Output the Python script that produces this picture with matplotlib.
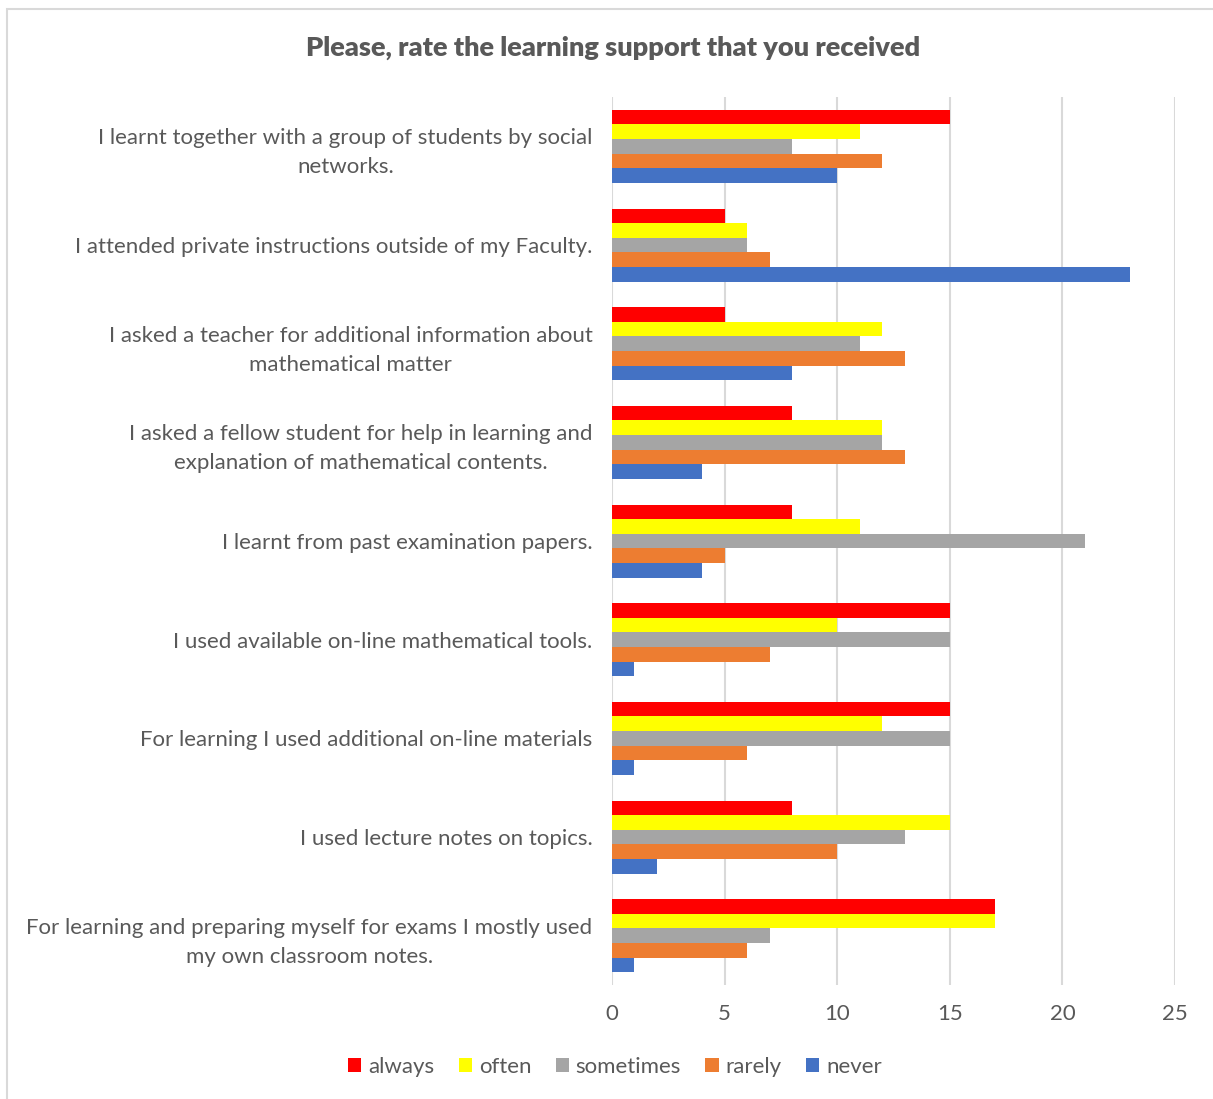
import numpy as np
import matplotlib
matplotlib.use('Agg')
import matplotlib.pyplot as plt
from matplotlib.patches import Rectangle

plt.rcParams['font.family'] = ['Lato', 'DejaVu Sans']

# survey statements, top to bottom
categories = [
    'I learnt together with a group of students by social\nnetworks.',
    'I attended private instructions outside of my Faculty.',
    'I asked a teacher for additional information about\nmathematical matter',
    'I asked a fellow student for help in learning and\nexplanation of mathematical contents.',
    'I learnt from past examination papers.',
    'I used available on-line mathematical tools.',
    'For learning I used additional on-line materials',
    'I used lecture notes on topics.',
    'For learning and preparing myself for exams I mostly used\nmy own classroom notes.',
]

series_names = ['always', 'often', 'sometimes', 'rarely', 'never']
always = [15, 5, 5, 8, 8, 15, 15, 8, 17]
often = [11, 6, 12, 12, 11, 10, 12, 15, 17]
sometimes = [8, 6, 11, 12, 21, 15, 15, 13, 7]
rarely = [12, 7, 13, 13, 5, 7, 6, 10, 6]
never = [10, 23, 8, 4, 4, 1, 1, 2, 1]
colors = ['#FF0000', '#FFFF00', '#A5A5A5', '#ED7D31', '#4472C4']

txt = '#595959'
fig = plt.figure(figsize=(12.13, 10.99), dpi=100)
ax = fig.add_axes([0.5045, 0.1037, 0.4642, 0.808])

# chart border (bottom and right edges fall outside the canvas)
fig.patches.append(Rectangle((0.006, -0.05), 1.2, 1.042, transform=fig.transFigure,
                             fill=False, edgecolor='#D9D9D9', lw=1.5))

n = len(categories)
y = np.arange(n)
h = 0.148
data = [always, often, sometimes, rarely, never]
for i, (name, vals, c) in enumerate(zip(series_names, data, colors)):
    ax.barh(y + (i - 2) * h, vals, height=h, color=c, label=name)

ax.set_ylim(n - 0.5, -0.5)
ax.set_xlim(0, 25)
ax.set_xticks(range(0, 26, 5))
ax.set_yticks(y)
ax.set_yticklabels(categories, fontsize=16, color=txt, ha='right',
                   multialignment='center', linespacing=1.55)
ax.tick_params(axis='y', length=0, pad=14)
ax.tick_params(axis='x', length=0, pad=14, labelsize=16, labelcolor=txt)
ax.grid(axis='x', color='#D9D9D9', lw=1.5)
ax.set_axisbelow(True)
for s in ax.spines.values():
    s.set_visible(False)

fig.text(0.505, 0.956, 'Please, rate the learning support that you received',
         ha='center', va='center', fontsize=19.5, fontweight='heavy', color=txt)

fig.legend(loc='center', bbox_to_anchor=(0.507, 0.029), ncol=5, frameon=False,
           fontsize=16, labelcolor=txt, handlelength=0.6, handleheight=0.6,
           handletextpad=0.3, columnspacing=1.1)

fig.savefig('out.png', dpi=100)
